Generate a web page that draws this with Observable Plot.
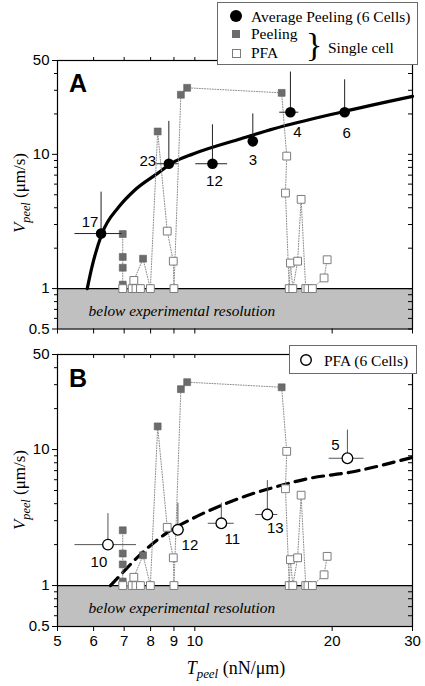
<!DOCTYPE html>
<html><head><meta charset="utf-8">
<script src="https://cdn.jsdelivr.net/npm/d3@7"></script>
<script src="https://cdn.jsdelivr.net/npm/@observablehq/plot@0.6"></script>
<style>
body{margin:0;background:#fff;}
#wrap{position:relative;width:425px;height:686px;overflow:hidden;font-family:"Liberation Serif","Times New Roman",Tinos,"Nimbus Roman","DejaVu Serif",serif;color:#000;}
.plot{position:absolute;left:0;}
.ov{position:absolute;white-space:nowrap;}
.ytitle{font-size:17px;transform:translate(-50%,-50%) rotate(-90deg);}
.xtitle{font-size:18px;transform:translate(-50%,-50%);}
.letter{font-family:"Liberation Sans",Arial,sans-serif;font-weight:bold;font-size:25px;}
.leg{position:absolute;background:#fff;border:1px solid #6a6a6a;box-sizing:border-box;font-size:15.5px;}
.leg span{position:absolute;transform:translateY(-50%);white-space:nowrap;}
.leg svg{position:absolute;left:0;top:0;}
sub{font-size:0.72em;vertical-align:-0.35em;}
</style></head><body><div id="wrap"></div>
<script>
// ---------- data ----------
const xTicks = [5, 6, 7, 8, 9, 10, 20, 30];
const xTopTicks = [6, 7, 8, 9, 10, 20];
const yTicksMajor = [0.5, 1, 10, 50];
const yTicksMinor = [0.6, 0.7, 0.8, 0.9, 2, 3, 4, 5, 6, 7, 8, 9, 20, 30, 40];

// single cell time series (in order): T_peel, V_peel, kind
const cellT = [6.95, 6.95, 6.95, 6.95, 6.95, 7.29, 7.43, 7.60, 7.35, 7.70, 7.99, 8.29, 8.70, 8.97, 9.0, 9.32, 9.62, 15.5, 15.9, 15.8, 16.1, 16.2, 16.4, 16.8, 17.1, 17.5, 17.7, 18.1, 19.2, 19.5];
const cellV = [2.55, 1.72, 1.43, 1.07, 1.0, 1.0, 1.0, 1.0, 1.15, 1.67, 1.0, 14.8, 2.68, 1.6, 1.0, 27.8, 31.3, 28.7, 9.7, 5.15, 1.0, 1.55, 1.0, 1.6, 4.62, 1.0, 1.0, 1.0, 1.2, 1.64];
const cellKind = ["Peeling","Peeling","Peeling","Peeling","PFA","PFA","PFA","PFA","PFA","Peeling","PFA","Peeling","PFA","PFA","PFA","Peeling","Peeling","Peeling","PFA","PFA","PFA","PFA","PFA","PFA","PFA","PFA","PFA","PFA","PFA","PFA"];

// panel A: average peeling (6 cells)
const avgLabel = ["17", "23", "12", "3", "4", "6"];
const avgT = [6.23, 8.77, 10.93, 13.4, 16.2, 21.3];
const avgV = [2.57, 8.51, 8.51, 12.5, 20.6, 20.6];
const avgVhi = [5.23, 17.6, 16.6, 20.0, 41, 35.9];
const avgTlo = [5.46, 8.26, 10.05, 13.2, 15.35, 20.9];
const avgThi = [6.93, 9.2, 11.8, 13.6, 16.9, 21.7];
const fitAT = [5.81, 5.95, 6.26, 6.81, 7.37, 8.27, 8.9, 9.94, 12.62, 14.9, 20.9, 30];
const fitAV = [1.0, 1.45, 2.57, 4.05, 5.38, 7.18, 8.6, 10.1, 13.07, 15.5, 20.6, 27.0];

// panel B: PFA (6 cells)
const pfaLabel = ["10", "12", "11", "13", "5"];
const pfaT = [6.45, 9.18, 11.43, 14.42, 21.6];
const pfaV = [2.0, 2.57, 2.87, 3.33, 8.63];
const pfaVhi = [3.38, 4.03, 4.03, 5.91, 13.9];
const pfaTlo = [5.46, 8.9, 10.7, 13.6, 19.7];
const pfaThi = [7.45, 9.5, 12.2, 15.2, 23.5];
const fitBT = [6.53, 6.81, 7.72, 8.62, 9.94, 11.4, 12.8, 15.7, 17.6, 21.9, 30];
const fitBV = [1.0, 1.16, 1.78, 2.40, 3.14, 3.87, 4.5, 5.53, 6.09, 6.81, 8.77];

// ---------- layout (not data) ----------
const avgLabelDx = [-11, -21, 2, 0, 7, 2];
const avgLabelDy = [-11, -3, 17, 19, 20, 21];
const pfaLabelDx = [-9, 12, 11, 8, -12];
const pfaLabelDy = [18, 15, 16, 14, -13];

const SANS = "Liberation Sans, Arial, Helvetica, sans-serif";
const SERIF = "Liberation Serif, Times New Roman, Tinos, Nimbus Roman, DejaVu Serif, serif";
const X0 = 57, X1 = 412;
const pxDecX = (X1 - X0) / Math.log10(30 / 5);

const cells = cellT.map((t, i) => ({t, v: cellV[i], kind: cellKind[i]}));

function panel(isA, top, height, mTop, mBottom) {
  const plotH = height - mTop - mBottom;
  const pxDecY = plotH / Math.log10(50 / 0.5);
  const yAll = yTicksMajor.concat(yTicksMinor);
  const avg = isA
    ? avgT.map((t, i) => ({t, v: avgV[i], hi: avgVhi[i], lo: avgTlo[i], th: avgThi[i], label: avgLabel[i], dx: avgLabelDx[i], dy: avgLabelDy[i]}))
    : pfaT.map((t, i) => ({t, v: pfaV[i], hi: pfaVhi[i], lo: pfaTlo[i], th: pfaThi[i], label: pfaLabel[i], dx: pfaLabelDx[i], dy: pfaLabelDy[i]}));
  const fit = isA ? fitAT.map((t, i) => ({t, v: fitAV[i]})) : fitBT.map((t, i) => ({t, v: fitBV[i]}));
  const barColor = isA ? "#222" : "#555";
  const marks = [
    Plot.rect([0], {x1: 5, x2: 30, y1: 0.5, y2: 1, fill: "#c0c0c0"}),
    Plot.ruleY([1], {stroke: "#000", strokeWidth: 1.3}),
    Plot.text(["below experimental resolution"], {x: 5.85, y: 0.68, text: d => d, textAnchor: "start", lineAnchor: "middle", fontStyle: "italic", fontFamily: SERIF, fontSize: 15.4, fill: "#000"}),
    Plot.line(fit, {x: "t", y: "v", curve: "monotone-x", stroke: "#000", strokeWidth: 3.2, strokeDasharray: isA ? null : "11,7"}),
    Plot.line(cells, {x: "t", y: "v", stroke: "#8c8c8c", strokeWidth: 1, strokeDasharray: "1,1.6"}),
    Plot.dot(cells.filter(d => d.kind === "Peeling"), {x: "t", y: "v", symbol: "square", r: 3.9, fill: "#6c6c6c", stroke: "#5e5e5e", strokeWidth: 0.6}),
    Plot.dot(cells.filter(d => d.kind === "PFA"), {x: "t", y: "v", symbol: "square", r: 4.4, fill: "#fff", stroke: "#7c7c7c", strokeWidth: 1}),
    Plot.ruleX(avg, {x: "t", y1: "v", y2: "hi", stroke: barColor, strokeWidth: 1}),
    Plot.ruleY(avg, {y: "v", x1: "lo", x2: "th", stroke: barColor, strokeWidth: 1}),
    Plot.dot(avg, {x: "t", y: "v", r: 5.3, fill: isA ? "#000" : "#fff", stroke: "#000", strokeWidth: isA ? 0 : 1.3}),
    ...avg.map(d => Plot.text([d], {x: "t", y: "v", text: "label", dx: d.dx, dy: d.dy, fontFamily: SANS, fontSize: 15, fill: "#000"})),
    Plot.frame({stroke: "#000", strokeWidth: 1.2}),
    // y axis: ticks + labels
    Plot.axisY(yTicksMajor, {tickSize: 5, tickFormat: () => "", label: null}),
    Plot.axisY(yTicksMinor, {tickSize: 3, tickFormat: () => "", label: null}),
    Plot.text(yTicksMajor, {y: d => d, text: d => String(d), frameAnchor: "left", dx: -8, textAnchor: "end", lineAnchor: "middle", fontFamily: SANS, fontSize: 15, fill: "#000"}),
    Plot.ruleY(yAll, {y: d => d, x1: 30 / Math.pow(10, 4 / pxDecX), x2: 30, stroke: "#000", strokeWidth: 1}),
    // x axis
    Plot.axisX(xTicks, {anchor: "bottom", tickSize: 5, tickFormat: () => "", label: null})
  ];
  if (isA) {
    marks.push(Plot.axisX(xTopTicks, {anchor: "top", tickSize: 4, tickFormat: () => "", label: null}));
  } else {
    marks.push(Plot.text(xTicks, {x: d => d, text: d => String(d), frameAnchor: "bottom", dy: 9, lineAnchor: "top", fontFamily: SANS, fontSize: 15, fill: "#000"}));
    marks.push(Plot.ruleX(xTopTicks, {x: d => d, y1: 50, y2: 50 / Math.pow(10, 4 / pxDecY), stroke: "#000", strokeWidth: 1}));
  }
  const svg = Plot.plot({
    width: 425, height, marginTop: mTop, marginBottom: mBottom, marginLeft: X0, marginRight: 425 - X1,
    x: {type: "log", domain: [5, 30], label: null},
    y: {type: "log", domain: [0.5, 50], label: null},
    style: {fontFamily: SANS, fontSize: "15px", background: "transparent", color: "#000", overflow: "visible"},
    marks
  });
  svg.classList.add("plot");
  svg.style.top = top + "px";
  return svg;
}

const wrap = document.getElementById("wrap");
wrap.appendChild(panel(true, 0, 340, 60, 11.5));
wrap.appendChild(panel(false, 340, 346, 14, 60));

function ov(html, cls, left, top) {
  const d = document.createElement("div");
  d.className = "ov " + cls;
  d.style.left = left + "px"; d.style.top = top + "px";
  d.innerHTML = html;
  wrap.appendChild(d);
}
const vTitle = '<i>V</i><sub><i>peel</i></sub> (\u03bcm/s)';
ov(vTitle, "ytitle", 22, 193);
ov(vTitle, "ytitle", 22, 490);
ov('<i>T</i><sub><i>peel</i></sub> (nN/\u03bcm)', "xtitle", 236, 670);
ov("A", "letter", 69, 69);
ov("B", "letter", 69, 364);

// legends
const legA = document.createElement("div");
legA.className = "leg";
Object.assign(legA.style, {left: "217px", top: "2px", width: "201px", height: "63px"});
legA.innerHTML = `<svg width="201" height="63">
<circle cx="18" cy="13" r="6" fill="#000"/>
<rect x="14" y="27" width="8" height="8" fill="#6c6c6c"/>
<rect x="14.5" y="46.5" width="8" height="8" fill="#fff" stroke="#7c7c7c"/>
</svg>
<span style="left:33px;top:14px">Average Peeling (6 Cells)</span>
<span style="left:33px;top:31px">Peeling</span>
<span style="left:33px;top:50px">PFA</span>
<span style="left:88px;top:42px;font-size:34px;">}</span>
<span style="left:110px;top:45px">Single cell</span>`;
wrap.appendChild(legA);

const legB = document.createElement("div");
legB.className = "leg";
Object.assign(legB.style, {left: "289px", top: "345px", width: "128px", height: "29px"});
legB.innerHTML = `<svg width="128" height="29"><circle cx="16" cy="14" r="5.3" fill="#fff" stroke="#000" stroke-width="1.4"/></svg>
<span style="left:34px;top:15px">PFA (6 Cells)</span>`;
wrap.appendChild(legB);
</script>
</body></html>
